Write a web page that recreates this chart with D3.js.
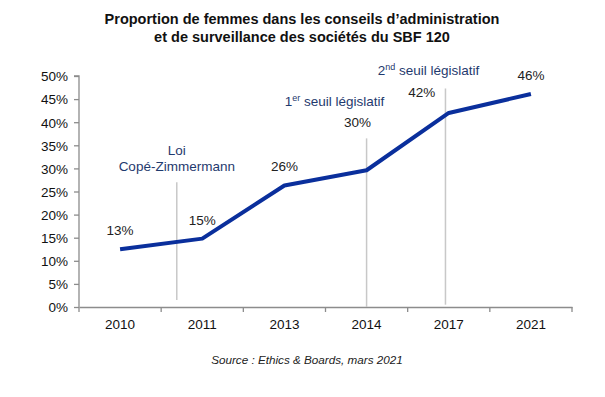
<!DOCTYPE html>
<html lang="fr">
<head>
  <meta charset="UTF-8">
  <title>Proportion de femmes dans les conseils</title>
  <script src="https://d3js.org/d3.v7.min.js"></script>
  <style>
    body { margin: 0; background: #fff; font-family: "Liberation Sans", Arial, sans-serif; }
  </style>
</head>
<body>
  <div id="chart"></div>
  <script>
    // Data
    const years = ["2010", "2011", "2013", "2014", "2017", "2021"];
    const shares = [12.5, 14.8, 26.3, 29.6, 42.0, 46.1];
    const shareLabels = ["13%", "15%", "26%", "30%", "42%", "46%"];
    const yTicks = [0, 5, 10, 15, 20, 25, 30, 35, 40, 45, 50];

    // Label placement relative to each point (dx, dy in px)
    const labelOffsets = [[0, -14], [0, -14], [0, -14], [-9, -43], [-27, -16], [0, -14]];

    // Vertical markers: position as index along the categories, span in %
    const markers = [
      { at: 0.69, from: 1.5, to: 27, lines: ["Loi", "Copé-Zimmermann"], dx: 0, dy: -11 },
      { at: 3, from: 0, to: 36.5, lines: ["1er seuil législatif"], dx: -32, dy: -32 },
      { at: 3.96, from: 0.5, to: 47.3, lines: ["2nd seuil législatif"], dx: -17, dy: -13 }
    ];

    const width = 605;
    const height = 397;
    const margin = { top: 76, right: 33, bottom: 90, left: 79 };

    const svg = d3.select("#chart").append("svg")
        .attr("width", width)
        .attr("height", height);

    const x = d3.scaleBand()
        .domain(years)
        .range([margin.left, width - margin.right]);

    const y = d3.scaleLinear()
        .domain([0, 50])
        .range([height - margin.bottom, margin.top]);

    const xAt = i => x(years[0]) + x.bandwidth() / 2 + i * x.step();

    // Title
    const title = svg.append("text")
        .attr("text-anchor", "middle")
        .attr("font-weight", "bold")
        .attr("font-size", 14.5)
        .attr("fill", "#111");
    title.append("tspan").attr("x", 302).attr("y", 24)
        .text("Proportion de femmes dans les conseils d’administration");
    title.append("tspan").attr("x", 302).attr("y", 42)
        .text("et de surveillance des sociétés du SBF 120");

    // Axes
    const yAxis = svg.append("g")
        .attr("transform", `translate(${margin.left},0)`)
        .call(d3.axisLeft(y).tickValues(yTicks).tickFormat(d => d + "%").tickSize(5).tickPadding(6));

    const xAxis = svg.append("g")
        .attr("transform", `translate(0,${y(0)})`)
        .call(d3.axisBottom(x).tickSize(0).tickPadding(12));

    // tick marks at band boundaries
    xAxis.selectAll(".bound")
      .data(d3.range(years.length + 1))
      .join("line")
        .attr("x1", i => margin.left + i * x.step())
        .attr("x2", i => margin.left + i * x.step())
        .attr("y1", 0)
        .attr("y2", 5);

    [yAxis, xAxis].forEach(g => {
      g.select(".domain").attr("stroke", "#8c8c8c").attr("stroke-width", 1.3);
      g.selectAll("line").attr("stroke", "#8c8c8c").attr("stroke-width", 1.3);
      g.selectAll("text")
          .attr("font-family", "'Liberation Sans', Arial, sans-serif")
          .attr("font-size", 13.5)
          .attr("fill", "#111");
    });
    yAxis.select(".domain").attr("d", `M-5,${y(50)}H0V${y(0)}`);
    yAxis.selectAll("text").attr("dy", "0.36em");

    // Marker lines
    svg.append("g")
      .selectAll("line")
      .data(markers)
      .join("line")
        .attr("x1", d => xAt(d.at))
        .attr("x2", d => xAt(d.at))
        .attr("y1", d => y(d.to))
        .attr("y2", d => y(d.from))
        .attr("stroke", "#c8c8c8")
        .attr("stroke-width", 1.5);

    // Marker labels
    const mLabel = svg.append("g")
        .attr("text-anchor", "middle")
        .attr("font-size", 13.5)
        .attr("fill", "#1f3a6e")
      .selectAll("text")
      .data(markers)
      .join("text")
        .attr("x", d => xAt(d.at) + d.dx)
        .attr("y", d => y(d.to) + d.dy - (d.lines.length - 1) * 16);

    mLabel.each(function(d) {
      const t = d3.select(this);
      d.lines.forEach((line, k) => {
        const m = line.match(/^(\d)(er|nd)(.*)$/);
        if (m) {
          t.append("tspan").attr("x", xAt(d.at) + d.dx).attr("dy", k ? 16 : 0).text(m[1]);
          t.append("tspan").attr("font-size", 9).attr("dy", -5).text(m[2]);
          t.append("tspan").attr("dy", 5).text(m[3]);
        } else {
          t.append("tspan").attr("x", xAt(d.at) + d.dx).attr("dy", k ? 16 : 0).text(line);
        }
      });
    });

    // Line
    const line = d3.line()
        .x((d, i) => xAt(i))
        .y(d => y(d));

    svg.append("path")
        .datum(shares)
        .attr("fill", "none")
        .attr("stroke", "#0a2f9c")
        .attr("stroke-width", 4)
        .attr("stroke-linejoin", "round")
        .attr("d", line);

    // Value labels
    svg.append("g")
        .attr("text-anchor", "middle")
        .attr("font-size", 13.5)
        .attr("fill", "#222")
      .selectAll("text")
      .data(shares)
      .join("text")
        .attr("x", (d, i) => xAt(i) + labelOffsets[i][0])
        .attr("y", (d, i) => y(d) + labelOffsets[i][1])
        .text((d, i) => shareLabels[i]);

    // Source
    svg.append("text")
        .attr("x", 307)
        .attr("y", 364)
        .attr("text-anchor", "middle")
        .attr("font-style", "italic")
        .attr("font-size", 11.7)
        .attr("fill", "#222")
        .text("Source : Ethics & Boards, mars 2021");
  </script>
</body>
</html>
